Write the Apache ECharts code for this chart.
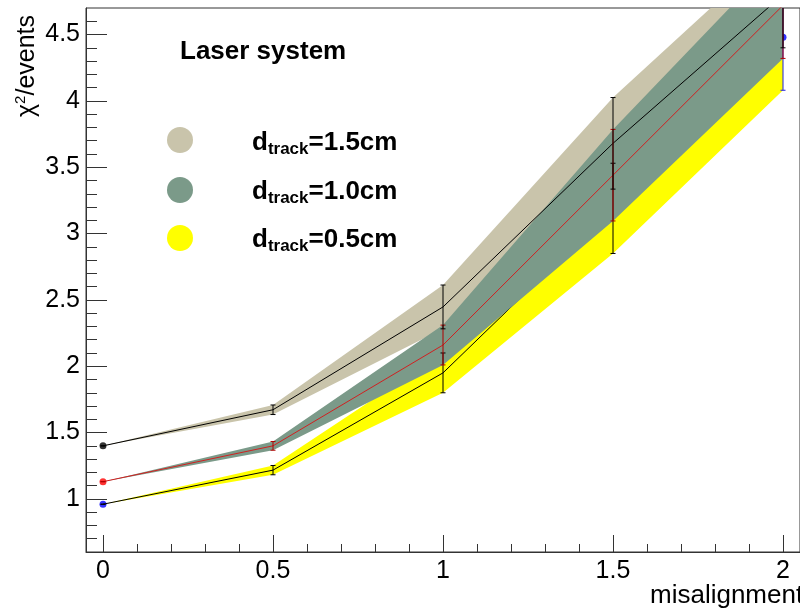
<!DOCTYPE html>
<html>
<head>
<meta charset="utf-8" />
<title>Laser system - chi2/events vs misalignment</title>
<script src="https://cdn.jsdelivr.net/npm/echarts@6/dist/echarts.min.js"></script>
<style>
html, body, #main {
  margin: 0;
  padding: 0;
  width: 800px;
  height: 611px;
  background: #fff;
  overflow: hidden;
}
</style>
</head>
<body>
<div id="main"></div>
<script>
// misalignment values
var xVals = [0, 0.5, 1, 1.5, 2];

// d_track = 1.5cm (black line, tan band)
var y15 = [1.40, 1.672, 2.447, 3.68, 4.80];
var e15 = [0, 0.036, 0.165, 0.345, 0.40];
// d_track = 1.0cm (red line, green band)
var y10 = [1.13, 1.40, 2.16, 3.44, 4.72];
var e10 = [0, 0.033, 0.15, 0.345, 0.40];
// d_track = 0.5cm (black line, blue markers, yellow band)
var y05 = [0.96, 1.217, 1.95, 3.19, 4.48];
var e05 = [0, 0.035, 0.15, 0.34, 0.40];

// axis ticks
var xLabels = [0, 0.5, 1, 1.5, 2];
var xMinor = [0.1, 0.2, 0.3, 0.4, 0.6, 0.7, 0.8, 0.9, 1.1, 1.2, 1.3, 1.4, 1.6, 1.7, 1.8, 1.9];
var yLabels = [1, 1.5, 2, 2.5, 3, 3.5, 4, 4.5];
var yMinor = [0.7, 0.8, 0.9, 1.1, 1.2, 1.3, 1.4, 1.6, 1.7, 1.8, 1.9, 2.1, 2.2, 2.3, 2.4,
              2.6, 2.7, 2.8, 2.9, 3.1, 3.2, 3.3, 3.4, 3.6, 3.7, 3.8, 3.9, 4.1, 4.2, 4.3, 4.4, 4.6];

var FONT = "'Liberation Sans', Arial, Helvetica, sans-serif";
var TAN = '#c9c4ab';
var GREEN = '#7b9a89';
var YELLOW = '#ffff00';

var chart = echarts.init(document.getElementById('main'));

function bandSeries(ys, es, color, z) {
  return {
    type: 'custom',
    z: z,
    clip: true,
    silent: true,
    data: xVals.map(function (x, i) { return [x, ys[i] - es[i], ys[i] + es[i]]; }),
    encode: { x: 0, y: [1, 2] },
    renderItem: function (params, api) {
      if (params.dataIndex !== 0) return null;
      var top = [], bot = [];
      for (var i = 0; i < xVals.length; i++) {
        top.push(api.coord([xVals[i], ys[i] + es[i]]));
        bot.unshift(api.coord([xVals[i], ys[i] - es[i]]));
      }
      return {
        type: 'polygon',
        shape: { points: top.concat(bot) },
        style: { fill: color, stroke: null }
      };
    }
  };
}

function lineSeries(ys, color, z) {
  return {
    type: 'line',
    z: z,
    silent: true,
    symbol: 'none',
    data: xVals.map(function (x, i) { return [x, ys[i]]; }),
    lineStyle: { color: color, width: 1 }
  };
}

function markerSeries(ys, color, z) {
  return {
    type: 'scatter',
    z: z,
    silent: true,
    symbolSize: 7,
    data: xVals.map(function (x, i) { return [x, ys[i]]; }),
    itemStyle: { color: color }
  };
}

function errSeries(ys, es, colors, z) {
  return {
    type: 'custom',
    z: z,
    clip: true,
    silent: true,
    data: xVals.map(function (x, i) { return [x, ys[i] - es[i], ys[i] + es[i]]; }),
    encode: { x: 0, y: [1, 2] },
    renderItem: function (params, api) {
      var lo = api.coord([api.value(0), api.value(1)]);
      var hi = api.coord([api.value(0), api.value(2)]);
      var c = colors[params.dataIndex];
      var w = 2.5;
      var st = { stroke: c, lineWidth: 1 };
      return {
        type: 'group',
        children: [
          { type: 'line', shape: { x1: lo[0], y1: lo[1], x2: hi[0], y2: hi[1] }, style: st },
          { type: 'line', shape: { x1: lo[0] - w, y1: lo[1], x2: lo[0] + w, y2: lo[1] }, style: st },
          { type: 'line', shape: { x1: hi[0] - w, y1: hi[1], x2: hi[0] + w, y2: hi[1] }, style: st }
        ]
      };
    }
  };
}

function legendText(val, y) {
  return {
    type: 'text', x: 252, y: y,
    style: {
      text: '{m|d}{s|track}{m|=' + val + '}',
      align: 'left', verticalAlign: 'middle', fill: '#000',
      rich: {
        m: { fontSize: 26, fontWeight: 'bold', fontFamily: FONT, lineHeight: 30, fill: '#000' },
        s: { fontSize: 17, fontWeight: 'bold', fontFamily: FONT, lineHeight: 15, verticalAlign: 'bottom', fill: '#000' }
      }
    }
  };
}

var axisColor = '#333';
var plotRect = { left: 86, top: 8, width: 722, height: 544 };

var option = {
  animation: false,
  backgroundColor: '#fff',
  grid: [
    {
      left: plotRect.left, top: plotRect.top, width: plotRect.width, height: plotRect.height,
      show: true, borderColor: axisColor, borderWidth: 1, backgroundColor: 'transparent'
    },
    // same rectangle, only carries the minor ticks
    { left: plotRect.left, top: plotRect.top, width: plotRect.width, height: plotRect.height, show: false }
  ],
  xAxis: [
    {
      type: 'value', gridIndex: 0, min: -0.05, max: 2.05, position: 'bottom',
      axisLine: { show: true, onZero: false, lineStyle: { color: axisColor, width: 1 } },
      axisTick: { show: true, inside: true, length: 17, customValues: xLabels, lineStyle: { color: axisColor } },
      axisLabel: { customValues: xLabels, fontSize: 25, color: '#000', margin: 7, fontFamily: FONT },
      splitLine: { show: false }
    },
    {
      type: 'value', gridIndex: 1, min: -0.05, max: 2.05, position: 'bottom',
      axisLine: { show: false, onZero: false },
      axisTick: { show: true, inside: true, length: 8, customValues: xMinor, lineStyle: { color: axisColor } },
      axisLabel: { show: false },
      splitLine: { show: false }
    }
  ],
  yAxis: [
    {
      type: 'value', gridIndex: 0, min: 0.6, max: 4.7, position: 'left',
      axisLine: { show: true, onZero: false, lineStyle: { color: axisColor, width: 1 } },
      axisTick: { show: true, inside: true, length: 21, customValues: yLabels, lineStyle: { color: axisColor } },
      axisLabel: { customValues: yLabels, fontSize: 25, color: '#000', margin: 6, fontFamily: FONT },
      splitLine: { show: false }
    },
    {
      type: 'value', gridIndex: 1, min: 0.6, max: 4.7, position: 'left',
      axisLine: { show: false, onZero: false },
      axisTick: { show: true, inside: true, length: 11, customValues: yMinor, lineStyle: { color: axisColor } },
      axisLabel: { show: false },
      splitLine: { show: false }
    }
  ],
  series: [
    // markers first: the bands cover all but the end points
    markerSeries(y15, '#000000', 1),
    markerSeries(y10, '#ff0000', 1),
    markerSeries(y05, '#0000ff', 1),
    bandSeries(y15, e15, TAN, 2),
    bandSeries(y05, e05, YELLOW, 3),
    lineSeries(y05, '#000000', 4),
    bandSeries(y10, e10, GREEN, 5),
    lineSeries(y10, '#d02020', 6),
    lineSeries(y15, '#000000', 7),
    errSeries(y05, e05, ['#000', '#000', '#000', '#000', '#2020e0'], 8),
    errSeries(y10, e10, ['#b00000', '#b00000', '#b00000', '#b00000', '#b00000'], 9),
    errSeries(y15, e15, ['#000', '#000', '#000', '#000', '#000'], 10)
  ],
  graphic: [
    {
      type: 'text', x: 27, y: 66, rotation: Math.PI / 2,
      style: {
        text: '{a|\u03c7}{b|2}{a|/events}',
        align: 'center', verticalAlign: 'middle', fill: '#000',
        rich: {
          a: { fontSize: 25, fontFamily: FONT, lineHeight: 28, fill: '#000' },
          b: { fontSize: 15, fontFamily: FONT, lineHeight: 14, verticalAlign: 'top', fill: '#000' }
        }
      }
    },
    {
      type: 'text', x: 650, y: 596,
      style: { text: 'misalignment', font: '26px ' + FONT, fill: '#000', align: 'left', verticalAlign: 'middle' }
    },
    {
      type: 'text', x: 180, y: 52,
      style: { text: 'Laser system', font: 'bold 26px ' + FONT, fill: '#000', align: 'left', verticalAlign: 'middle' }
    },
    { type: 'circle', shape: { cx: 180, cy: 140, r: 13 }, style: { fill: TAN } },
    { type: 'circle', shape: { cx: 180, cy: 190, r: 13 }, style: { fill: GREEN } },
    { type: 'circle', shape: { cx: 180, cy: 238, r: 13 }, style: { fill: YELLOW } },
    legendText('1.5cm', 143),
    legendText('1.0cm', 192),
    legendText('0.5cm', 240)
  ]
};

chart.setOption(option);
</script>
</body>
</html>
